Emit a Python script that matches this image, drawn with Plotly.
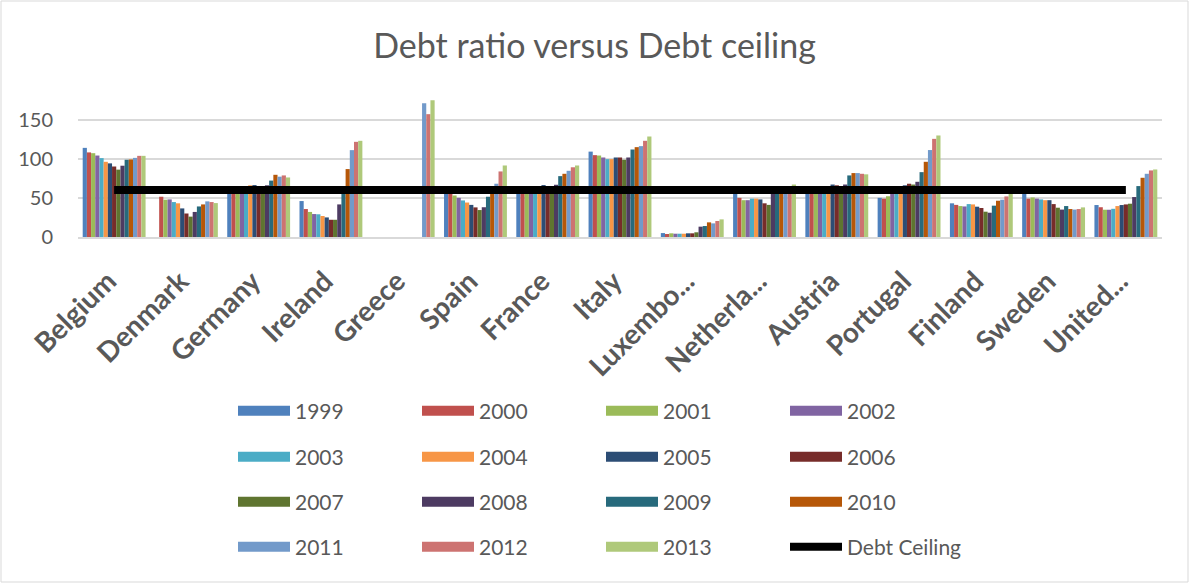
import plotly.graph_objects as go

countries = ["Belgium", "Denmark", "Germany", "Ireland", "Greece", "Spain", "France", "Italy",
             "Luxembourg", "Netherlands", "Austria", "Portugal", "Finland", "Sweden", "United Kingdom"]
tick_labels = ["Belgium", "Denmark", "Germany", "Ireland", "Greece", "Spain", "France", "Italy",
               "Luxembo...", "Netherla...", "Austria", "Portugal", "Finland", "Sweden", "United..."]
years = [str(y) for y in range(1999, 2014)]

# Debt ratio (% of GDP) per country, 1999..2013
belgium = [113.8, 108, 107, 104, 100.7, 96, 94, 90, 86, 91, 98.6, 99, 101, 103.6, 103.6]
denmark = [None, 51.4, 47.6, 48, 44.6, 43, 36.5, 30, 26, 32, 39, 41.6, 45.5, 44.6, 43.3]
germany = [61, 60, 59, 61, 64, 66, 66.3, 65, 64, 66, 72, 79.4, 77, 78.6, 76]
ireland = [45.9, 35.7, 32, 29.3, 29, 26.8, 25, 22, 22, 41.6, 64, 86.7, 110.9, 121.5, 122.8]
greece = [None, None, None, None, None, None, None, None, None, None, None, None, 170.8, 156.8, 174.6]
spain = [62, 58, 53, 50, 46.7, 44, 41, 37.8, 34.4, 38, 51.4, 60, 68, 83.7, 91.3]
france = [59, 58, 57, 59, 63, 64.6, 66.3, 64, 64, 66.7, 77.7, 80.7, 84.5, 89, 91.3]
italy = [109, 104.5, 104, 101.5, 99.4, 99.4, 101.5, 101.5, 98.6, 101.5, 111.7, 114.7, 116, 122.8, 128.3]
luxembourg = [5, 3.8, 4.7, 4.2, 4.2, 4.2, 4.7, 4.7, 6, 13.2, 14, 18.7, 17.4, 20.4, 22.5]
netherlands = [61, 50, 47, 47, 49, 49, 48, 43, 41, 58, 60, 59, 61, 64, 67]
austria = [65, 65, 65, 64.6, 64.6, 64, 67, 66, 62, 67, 78.6, 81.6, 81.6, 80.7, 80]
portugal = [50, 49, 52, 55, 57, 60, 66, 68, 67, 70.5, 82.8, 96, 111, 125.3, 129.6]
finland = [43, 41, 39.5, 39, 42, 41.6, 38.7, 37, 32.3, 31, 40, 46.3, 47.6, 51.8, 56]
sweden = [63, 49, 50.5, 49, 48, 47, 47, 42, 37.4, 35, 39.5, 35.7, 35, 35.7, 37.8]
united_kingdom = [40.8, 38, 34.8, 34.8, 36, 39.5, 40.8, 41.6, 42.5, 51, 65, 75.6, 80.7, 85, 86.2]

debt_ceiling = [60] * 15

rows = [belgium, denmark, germany, ireland, greece, spain, france, italy,
        luxembourg, netherlands, austria, portugal, finland, sweden, united_kingdom]

colors = ["#4F81BD", "#C0504D", "#9BBB59", "#8064A2", "#4BACC6", "#F79646", "#2C4D75",
          "#772C2A", "#5F7530", "#4D3B62", "#276A7C", "#B65708", "#729ACA", "#CD7371", "#AFC97A"]

legend_names = ["legend", "legend2", "legend3", "legend4"]

fig = go.Figure()
for i, yr in enumerate(years):
    fig.add_trace(go.Bar(
        x=countries, y=[r[i] for r in rows], name=yr,
        marker=dict(color=colors[i], line=dict(width=0)),
        legendgroup=yr, showlegend=False,
    ))
    # legend-only swatch (wide rectangle like the original legend keys)
    fig.add_trace(go.Scatter(
        x=[None], y=[None], name=yr, mode="lines",
        line=dict(color=colors[i], width=20), legendgroup=yr,
        legend=legend_names[i // 4], hoverinfo="skip",
    ))
fig.add_trace(go.Scatter(
    x=countries, y=debt_ceiling, name="Debt Ceiling", mode="lines",
    line=dict(color="black", width=8), legend="legend4",
))

W, H = 1189, 583
txt = "#595959"
row_y = [411, 457, 502, 547]
item_w = 52
leg_common = dict(orientation="h", xref="container", yref="container", x=(297 - item_w - 10 - 2) / W,
                  xanchor="left", yanchor="middle", entrywidth=184 - item_w - 15, entrywidthmode="pixels",
                  itemwidth=item_w,
                  font=dict(family="Lato", size=21, color=txt), bgcolor="rgba(0,0,0,0)",
                  traceorder="normal")
legends = {}
for k, name in enumerate(legend_names):
    legends[name] = dict(leg_common, y=1 - row_y[k] / H)

fig.update_layout(
    width=W, height=H, autosize=False,
    margin=dict(l=78, r=27, t=96, b=346, autoexpand=False),
    paper_bgcolor="white", plot_bgcolor="white",
    barmode="group", bargap=0.13, bargroupgap=0,
    title=dict(text="Debt ratio versus Debt ceiling", xref="container", x=0.5, xanchor="center",
               yref="container", y=1 - 46 / H, yanchor="middle",
               font=dict(family="Lato", size=34, color=txt)),
    showlegend=True,
    **legends,
)
fig.update_xaxes(
    tickmode="array", tickvals=countries, ticktext=tick_labels, tickangle=-45,
    tickfont=dict(family="Lato", size=28, color=txt, weight="bold"),
    showline=True, linecolor="#D9D9D9", linewidth=1.5, ticks="", showgrid=False,
    ticklabelstandoff=15, ticklabelshift=-6, automargin=False,
)
fig.update_yaxes(
    range=[0, 180], tickvals=[0, 50, 100, 150], showgrid=True, gridcolor="#D9D9D9", gridwidth=1.5,
    zeroline=False, showline=False, ticks="", ticklabelstandoff=24, automargin=False,
    tickfont=dict(family="Lato", size=20, color=txt),
)
# outer chart border
fig.add_shape(type="rect", xref="paper", yref="paper",
              x0=-77 / 1084, x1=(1084 + 26) / 1084, y0=-345 / 141, y1=1 + 95 / 141,
              line=dict(color="#D9D9D9", width=1), fillcolor="rgba(0,0,0,0)", layer="below")

fig.write_html("out.html")
